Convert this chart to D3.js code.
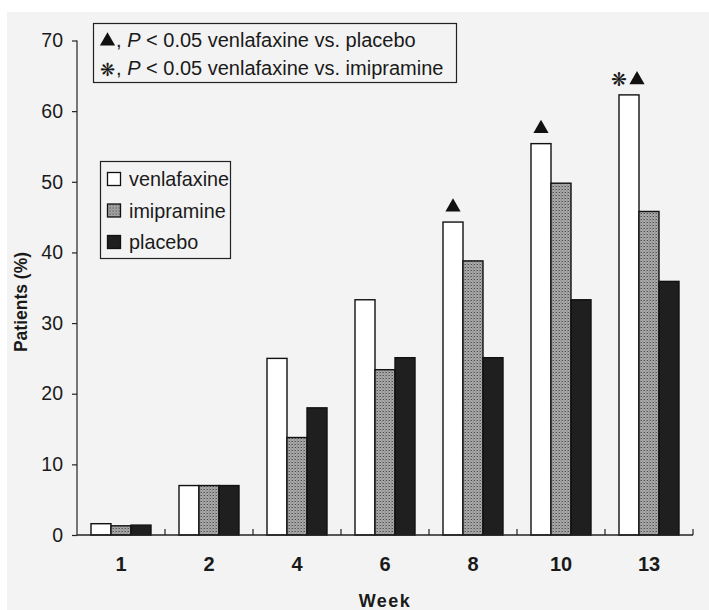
<!DOCTYPE html>
<html>
<head>
<meta charset="utf-8">
<script src="https://cdn.jsdelivr.net/npm/d3@7"></script>
<style>
  html, body { margin: 0; padding: 0; background: #fff; }
  svg { display: block; }
  text { font-family: "Liberation Sans", Arial, Helvetica, sans-serif; fill: #1a1a1a; }
</style>
</head>
<body>
<svg id="chart" width="709" height="610"></svg>
<script>
// Responders by week of treatment (% of patients)
const weeks = ["1", "2", "4", "6", "8", "10", "13"];
const seriesNames = ["venlafaxine", "imipramine", "placebo"];
const venlafaxine = [1.6, 7, 25, 33.3, 44.3, 55.4, 62.3];
const imipramine  = [1.3, 7, 13.8, 23.4, 38.8, 49.8, 45.8];
const placebo     = [1.4, 7, 18, 25.1, 25.1, 33.3, 35.9];
const yTicks = [0, 10, 20, 30, 40, 50, 60, 70];
// significance markers: triangle = vs placebo, asterisk = vs imipramine
const sigPlacebo    = ["8", "10", "13"];
const sigImipramine = ["13"];

const valuesBySeries = { venlafaxine, imipramine, placebo };
const rows = weeks.map((w, i) => ({
  week: w,
  values: seriesNames.map(s => ({ series: s, value: valuesBySeries[s][i] }))
}));

const svg = d3.select("#chart");
const W = 709, H = 610;
const plotLeft = 77, plotRight = 693, plotTop = 40, plotBottom = 535;

// paper background
svg.append("rect").attr("width", W).attr("height", H).attr("fill", "#ffffff");
svg.append("rect").attr("x", 7).attr("y", 12).attr("width", W - 7).attr("height", H - 12)
  .attr("fill", "#f3f3f3");

// stippled fill for imipramine
const defs = svg.append("defs");
const pat = defs.append("pattern").attr("id", "stipple")
  .attr("patternUnits", "userSpaceOnUse").attr("width", 3).attr("height", 3);
pat.append("rect").attr("width", 3).attr("height", 3).attr("fill", "#adadad");
pat.append("rect").attr("x", 0).attr("y", 0).attr("width", 1).attr("height", 1).attr("fill", "#505050");
pat.append("rect").attr("x", 1.5).attr("y", 1.5).attr("width", 1).attr("height", 1).attr("fill", "#646464");
pat.append("rect").attr("x", 2).attr("y", 0).attr("width", 1).attr("height", 1).attr("fill", "#858585");

const fills = { venlafaxine: "#ffffff", imipramine: "url(#stipple)", placebo: "#1f1f1f" };

const x0 = d3.scaleBand().domain(weeks).range([plotLeft, plotRight]).paddingInner(0).paddingOuter(0);
const x1 = d3.scaleBand().domain(seriesNames).range([0, x0.bandwidth()]).paddingInner(0).paddingOuter(0.7);
const y = d3.scaleLinear().domain([0, 70]).range([plotBottom, plotTop + 0.5]);

// bars
const groups = svg.append("g").selectAll("g").data(rows).join("g")
  .attr("transform", d => `translate(${x0(d.week)},0)`);
groups.selectAll("rect").data(d => d.values).join("rect")
  .attr("x", d => x1(d.series))
  .attr("y", d => y(d.value))
  .attr("width", x1.bandwidth())
  .attr("height", d => y(0) - y(d.value))
  .attr("fill", d => fills[d.series])
  .attr("stroke", "#111")
  .attr("stroke-width", 1.4);

// y axis
const yAxis = svg.append("g").attr("transform", `translate(${plotLeft},0)`)
  .call(d3.axisLeft(y).tickValues(yTicks).tickSize(5).tickPadding(9));
yAxis.select(".domain").attr("stroke", "#222").attr("stroke-width", 1.2)
  .attr("d", `M-0,${y(70)}V${plotBottom}`);
yAxis.selectAll(".tick line").attr("stroke", "#222").attr("stroke-width", 1.2);
yAxis.selectAll(".tick text").attr("font-size", 19.5).attr("fill", "#1a1a1a")
  .style("font-family", "'Liberation Sans', Arial, sans-serif");

// x axis: baseline with inward ticks at group boundaries
const xg = svg.append("g");
xg.append("line").attr("x1", plotLeft).attr("x2", plotRight).attr("y1", plotBottom).attr("y2", plotBottom)
  .attr("stroke", "#222").attr("stroke-width", 1.4);
xg.selectAll("line.bt").data(weeks).join("line").attr("class", "bt")
  .attr("x1", d => x0(d) + x0.bandwidth()).attr("x2", d => x0(d) + x0.bandwidth())
  .attr("y1", plotBottom).attr("y2", plotBottom - 6)
  .attr("stroke", "#222").attr("stroke-width", 1.2);
xg.selectAll("text").data(weeks).join("text")
  .attr("x", d => x0(d) + x0.bandwidth() / 2)
  .attr("y", plotBottom + 36)
  .attr("text-anchor", "middle")
  .attr("font-size", 20).attr("font-weight", "bold")
  .text(d => d);

// axis titles
svg.append("text").attr("x", (plotLeft + plotRight) / 2).attr("y", 607)
  .attr("text-anchor", "middle").attr("font-size", 18).attr("font-weight", "bold")
  .attr("letter-spacing", 1.5).text("Week");
svg.append("text").attr("transform", `translate(27,302) rotate(-90)`)
  .attr("text-anchor", "middle").attr("font-size", 17.5).attr("font-weight", "bold")
  .text("Patients (%)");

// significance markers above venlafaxine bars
const triPath = d3.symbol().type(d3.symbolTriangle).size(100)();
function markerY(week) {
  const v = venlafaxine[weeks.indexOf(week)];
  return y(v) - 15;
}
const cx = w => x0(w) + x1("venlafaxine") + x1.bandwidth() / 2;
sigPlacebo.forEach(w => {
  const both = sigImipramine.includes(w);
  svg.append("path").attr("d", triPath)
    .attr("transform", `translate(${cx(w) + (both ? 8 : 0)},${markerY(w)})`)
    .attr("fill", "#111");
});
sigImipramine.forEach(w => {
  svg.append("text").attr("x", cx(w) - 10).attr("y", markerY(w) + 6.5)
    .attr("text-anchor", "middle").attr("font-size", 19)
    .style("font-family", "'DejaVu Sans', sans-serif")
    .text("\u274B");
});

// significance legend
const sig = svg.append("g");
sig.append("rect").attr("x", 93.5).attr("y", 23.5).attr("width", 363).attr("height", 59)
  .attr("fill", "none").attr("stroke", "#222").attr("stroke-width", 1.2);
sig.append("path").attr("d", triPath).attr("transform", "translate(107.5,41)").attr("fill", "#111");
sig.append("text").attr("x", 100).attr("y", 76).attr("font-size", 18)
  .style("font-family", "'DejaVu Sans', sans-serif").text("\u274B");
const l1 = sig.append("text").attr("x", 116).attr("y", 47).attr("font-size", 20);
l1.append("tspan").text(", ");
l1.append("tspan").attr("font-style", "italic").text("P");
l1.append("tspan").text(" < 0.05 venlafaxine vs. placebo");
const l2 = sig.append("text").attr("x", 116).attr("y", 75).attr("font-size", 20);
l2.append("tspan").text(", ");
l2.append("tspan").attr("font-style", "italic").text("P");
l2.append("tspan").text(" < 0.05 venlafaxine vs. imipramine");

// series legend
const leg = svg.append("g");
leg.append("rect").attr("x", 100.5).attr("y", 161.5).attr("width", 130).attr("height", 97)
  .attr("fill", "none").attr("stroke", "#222").attr("stroke-width", 1.2);
const item = leg.selectAll("g").data(seriesNames).join("g")
  .attr("transform", (d, i) => `translate(107,${179 + i * 31.5})`);
item.append("rect").attr("x", 0.5).attr("y", -6.5).attr("width", 13).attr("height", 13)
  .attr("fill", d => fills[d]).attr("stroke", "#111").attr("stroke-width", 1.3);
item.append("text").attr("x", 22).attr("y", 7).attr("font-size", 19.8).text(d => d);
</script>
</body>
</html>
